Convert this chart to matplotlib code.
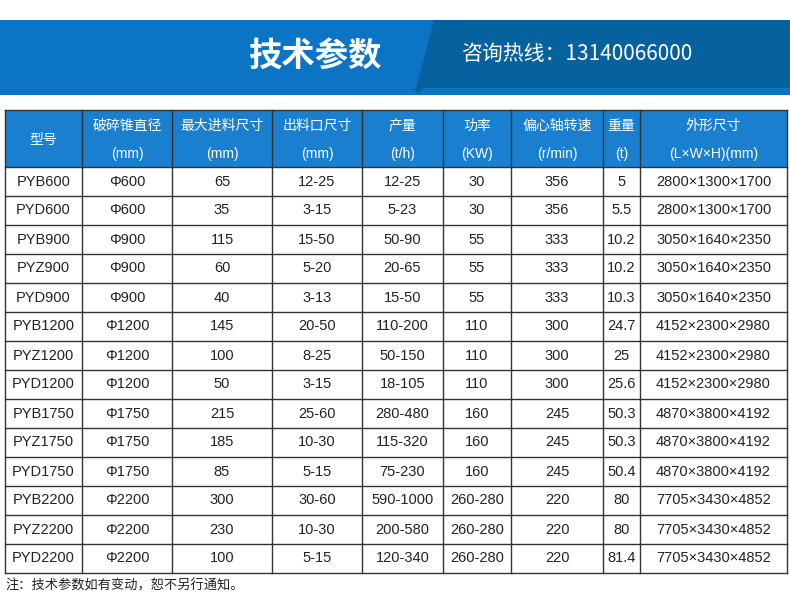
import matplotlib
matplotlib.use("Agg")
import matplotlib.pyplot as plt
from matplotlib.patches import Rectangle, Polygon

plt.rcParams['font.family'] = ['Noto Sans CJK SC', 'DejaVu Sans']
LAT = ['Liberation Sans', 'Noto Sans CJK SC']

title = "技术参数"
hotline = "咨询热线：13140066000"
header1 = ["型号", "破碎锥直径", "最大进料尺寸", "出料口尺寸", "产量", "功率", "偏心轴转速", "重量", "外形尺寸"]
header2 = ["", "(mm)", "(mm)", "(mm)", "(t/h)", "(KW)", "(r/min)", "(t)", "(L×W×H)(mm)"]
models = ["PYB600", "PYD600", "PYB900", "PYZ900", "PYD900", "PYB1200", "PYZ1200", "PYD1200",
          "PYB1750", "PYZ1750", "PYD1750", "PYB2200", "PYZ2200", "PYD2200"]
diameter = ["Φ600", "Φ600", "Φ900", "Φ900", "Φ900", "Φ1200", "Φ1200", "Φ1200",
            "Φ1750", "Φ1750", "Φ1750", "Φ2200", "Φ2200", "Φ2200"]
feed = ["65", "35", "115", "60", "40", "145", "100", "50", "215", "185", "85", "300", "230", "100"]
outlet = ["12-25", "3-15", "15-50", "5-20", "3-13", "20-50", "8-25", "3-15", "25-60", "10-30", "5-15",
          "30-60", "10-30", "5-15"]
capacity = ["12-25", "5-23", "50-90", "20-65", "15-50", "110-200", "50-150", "18-105", "280-480",
            "115-320", "75-230", "590-1000", "200-580", "120-340"]
power = ["30", "30", "55", "55", "55", "110", "110", "110", "160", "160", "160", "260-280", "260-280", "260-280"]
speed = ["356", "356", "333", "333", "333", "300", "300", "300", "245", "245", "245", "220", "220", "220"]
weight = ["5", "5.5", "10.2", "10.2", "10.3", "24.7", "25", "25.6", "50.3", "50.3", "50.4", "80", "80", "81.4"]
dims = ["2800×1300×1700", "2800×1300×1700", "3050×1640×2350", "3050×1640×2350", "3050×1640×2350",
        "4152×2300×2980", "4152×2300×2980", "4152×2300×2980", "4870×3800×4192", "4870×3800×4192",
        "4870×3800×4192", "7705×3430×4852", "7705×3430×4852", "7705×3430×4852"]
note = "注：技术参数如有变动，恕不另行通知。"

W, H = 790, 615
fig = plt.figure(figsize=(7.9, 6.15), dpi=100)
ax = fig.add_axes([0, 0, 1, 1])
ax.set_xlim(0, W); ax.set_ylim(H, 0); ax.axis('off')

# banner
ax.add_patch(Rectangle((0, 20), W, 75, color='#0b74c4', lw=0))
ax.add_patch(Polygon([(434, 20), (W, 20), (W, 88), (416, 88)], color='#06629f', lw=0))
ax.add_patch(Polygon([(414, 88), (424, 88), (418, 94)], color='#06629f', lw=0))
ax.text(315, 56, title, color='white', fontsize=24, fontweight='bold', ha='center', va='center')
ax.text(462, 54, hotline, color='white', fontsize=15, ha='left', va='center')

cols = [5, 82, 172, 272, 362, 443, 511, 603, 640, 787]
top, hdr_bot, row_h = 110, 167, 29.0
nrows = len(models)
bottom = hdr_bot + nrows * row_h

ax.add_patch(Rectangle((cols[0], top), cols[-1] - cols[0], hdr_bot - top, color='#1a7fcf', lw=0))
for i in range(9):
    cx = (cols[i] + cols[i + 1]) / 2
    if header2[i]:
        ax.text(cx, 126, header1[i], color='white', fontsize=10, ha='center', va='center')
        ax.text(cx, 154, header2[i], color='white', fontsize=10, ha='center', va='center', family=LAT)
    else:
        ax.text(cx, 140, header1[i], color='white', fontsize=10, ha='center', va='center')

data = [models, diameter, feed, outlet, capacity, power, speed, weight, dims]
for r in range(nrows):
    cy = hdr_bot + (r + 0.5) * row_h
    for c in range(9):
        ax.text((cols[c] + cols[c + 1]) / 2, cy, data[c][r], color='#222222', fontsize=10.5,
                ha='center', va='center', family=LAT)

lc = '#333333'
for x in cols:
    ax.plot([x, x], [top, bottom], color=lc, lw=1)
for y in [top, hdr_bot] + [hdr_bot + (r + 1) * row_h for r in range(nrows)]:
    ax.plot([cols[0], cols[-1]], [y, y], color=lc, lw=1)

ax.text(5, 586, note, color='#222222', fontsize=9.5, ha='left', va='center')

fig.savefig('out.png', dpi=100)
